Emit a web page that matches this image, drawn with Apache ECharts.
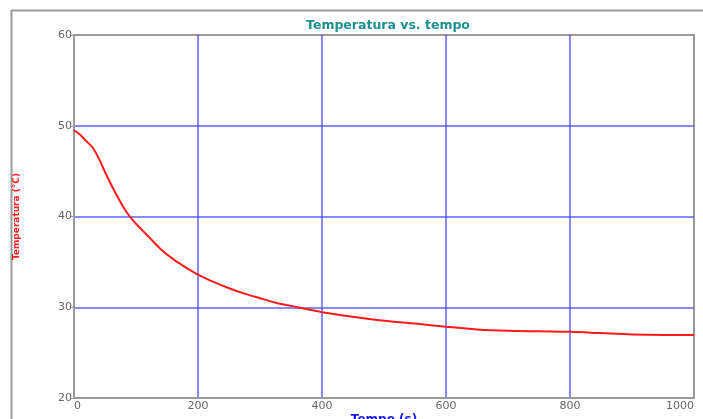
<!DOCTYPE html>
<html>
<head>
<meta charset="utf-8">
<script src="https://cdn.jsdelivr.net/npm/echarts@6/dist/echarts.min.js"></script>
<style>
  html, body { margin: 0; padding: 0; background: #fff; }
  #chart { width: 703px; height: 419px; }
</style>
</head>
<body>
<div id="chart"></div>
<script>
// Cooling curve: time in seconds, temperature in °C
const tempo = [0, 10, 20, 30, 40, 50, 60, 70, 80, 90, 100, 120, 140, 160, 180, 200,
  225, 250, 275, 300, 325, 350, 375, 400, 450, 500, 550, 600, 650, 700, 750, 800,
  850, 900, 950, 1000];
const temperatura = [49.5, 49.0, 48.3, 47.6, 46.4, 44.9, 43.5, 42.2, 41.0, 40.0, 39.2,
  37.8, 36.4, 35.3, 34.4, 33.6, 32.8, 32.1, 31.5, 31.0, 30.5, 30.15, 29.8, 29.45,
  28.95, 28.5, 28.2, 27.85, 27.55, 27.4, 27.35, 27.3, 27.15, 27.0, 26.95, 26.95];
const xTicks = [0, 200, 400, 600, 800, 1000];
const yTicks = [20, 30, 40, 50, 60];

const chart = echarts.init(document.getElementById('chart'), null, { renderer: 'canvas' });

const gridStyle = { color: 'rgba(70,70,255,0.85)', width: 1.5 };
const labelStyle = { color: '#666', fontSize: 11, fontFamily: 'DejaVu Sans' };

chart.setOption({
  animation: false,
  backgroundColor: '#fff',
  title: {
    text: 'Temperatura vs. tempo',
    left: 383, top: 14,
    textAlign: 'center',
    textStyle: { color: '#1a9090', fontSize: 12.5, fontWeight: 'bold', fontFamily: 'DejaVu Sans' }
  },
  graphic: [
    { type: 'line', shape: { x1: 11, y1: 10.5, x2: 703, y2: 10.5 }, style: { stroke: '#999', lineWidth: 2 } },
    { type: 'line', shape: { x1: 11.5, y1: 10, x2: 11.5, y2: 419 }, style: { stroke: '#999', lineWidth: 2 } }
  ],
  grid: {
    left: 74, right: 9, top: 35, bottom: 21,
    containLabel: false,
    outerBoundsMode: 'none',
    show: true, borderColor: '#999', borderWidth: 2, backgroundColor: '#fff'
  },
  xAxis: {
    type: 'value',
    min: xTicks[0], max: xTicks[xTicks.length - 1], interval: 200,
    name: 'Tempo (s)', nameLocation: 'middle', nameGap: 16, nameMoveOverlap: false,
    nameTextStyle: { color: '#1515e0', fontSize: 12, fontWeight: 'bold', fontFamily: 'DejaVu Sans' },
    axisLine: { lineStyle: { color: '#999', width: 2 } },
    axisTick: { show: false },
    axisLabel: Object.assign({
      margin: 3, formatter: v => String(v),
      alignMinLabel: 'left', alignMaxLabel: 'right'
    }, labelStyle),
    splitLine: { show: true, showMinLine: false, showMaxLine: false, lineStyle: gridStyle }
  },
  yAxis: {
    type: 'value',
    min: yTicks[0], max: yTicks[yTicks.length - 1], interval: 10,
    name: 'Temperatura (°C)', nameLocation: 'middle', nameGap: 53, nameRotate: 90,
    nameMoveOverlap: false,
    nameTextStyle: { color: '#ff2020', fontSize: 9, fontWeight: 'bold', fontFamily: 'DejaVu Sans' },
    axisLine: { lineStyle: { color: '#999', width: 2 } },
    axisTick: { show: true, length: 3, lineStyle: { color: '#999' } },
    axisLabel: Object.assign({ margin: 2 }, labelStyle),
    splitLine: { show: true, showMinLine: false, showMaxLine: false, lineStyle: gridStyle }
  },
  series: [{
    type: 'line',
    data: tempo.map((t, i) => [t, temperatura[i]]),
    showSymbol: false,
    smooth: 0.3,
    lineStyle: { color: '#ff1a1a', width: 2 },
    z: 5
  }]
});
</script>
</body>
</html>
